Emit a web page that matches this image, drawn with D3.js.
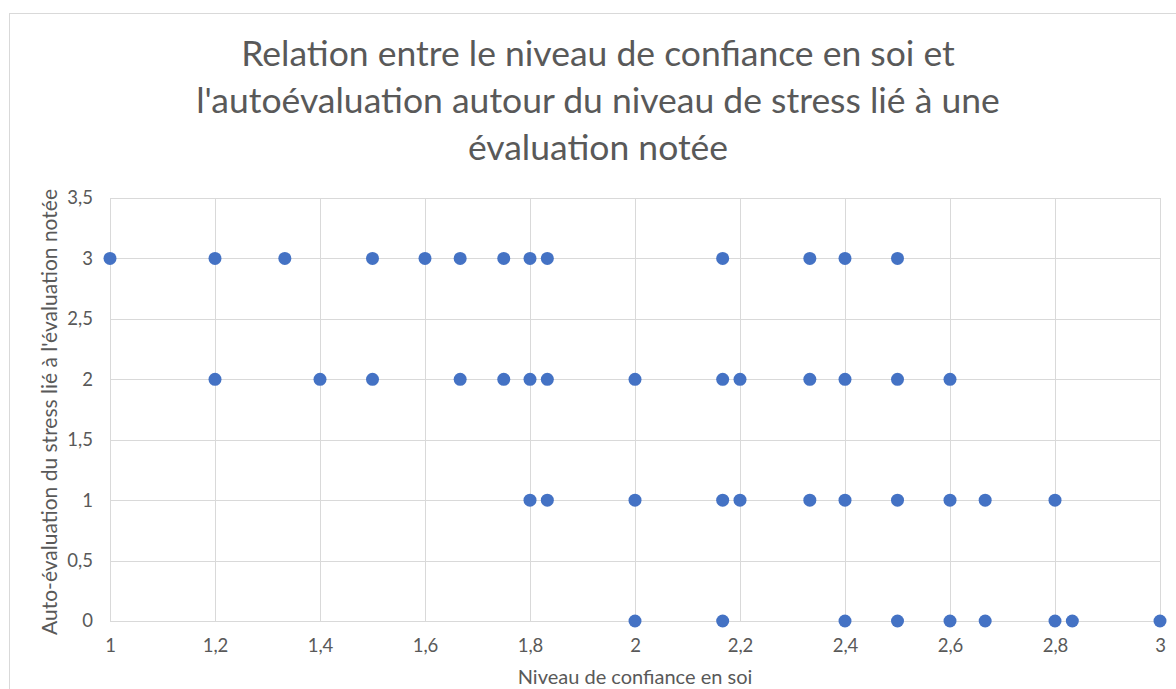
<!DOCTYPE html>
<html>
<head>
<meta charset="utf-8">
<script src="https://cdn.jsdelivr.net/npm/d3@7"></script>
<style>
  body { margin: 0; background: #fff; }
  text { font-family: Lato, "Open Sans", sans-serif; fill: #595959; }
</style>
</head>
<body>
<script>
// valeurs
var confiance = [
  1, 1.2, 1.333, 1.5, 1.6, 1.667, 1.75, 1.8, 1.833, 2.167, 2.333, 2.4, 2.5,
  1.2, 1.4, 1.5, 1.667, 1.75, 1.8, 1.833, 2, 2.167, 2.2, 2.333, 2.4, 2.5, 2.6,
  1.8, 1.833, 2, 2.167, 2.2, 2.333, 2.4, 2.5, 2.6, 2.667, 2.8,
  2, 2.167, 2.4, 2.5, 2.6, 2.667, 2.8, 2.833, 3
]
var stress = [
  3, 3, 3, 3, 3, 3, 3, 3, 3, 3, 3, 3, 3,
  2, 2, 2, 2, 2, 2, 2, 2, 2, 2, 2, 2, 2, 2,
  1, 1, 1, 1, 1, 1, 1, 1, 1, 1, 1,
  0, 0, 0, 0, 0, 0, 0, 0, 0
]
var xTicks = [1, 1.2, 1.4, 1.6, 1.8, 2, 2.2, 2.4, 2.6, 2.8, 3]
var yTicks = [0, 0.5, 1, 1.5, 2, 2.5, 3, 3.5]
var titre = [
  "Relation entre le niveau de confiance en soi et",
  "l'autoévaluation autour du niveau de stress lié à une",
  "évaluation notée"
]

var points = confiance.map((c, i) => ({x: c, y: stress[i]}))

var width = 1176, height = 689
var svg = d3.select("body").append("svg")
  .attr("width", width)
  .attr("height", height)

// cadre du graphique
svg.append("rect")
  .attr("x", 9.5).attr("y", 13.5)
  .attr("width", 1200).attr("height", 700)
  .attr("fill", "none")
  .attr("stroke", "#d9d9d9")

var Xscale = d3.scaleLinear().domain([1, 3]).range([110, 1160])
var Yscale = d3.scaleLinear().domain([0, 3.5]).range([621, 198])

var fmt = d => String(d).replace(".", ",")

// grille
svg.append("g")
  .selectAll("line")
  .data(xTicks)
  .enter()
  .append("line")
  .attr("x1", d => Math.round(Xscale(d)) + 0.5)
  .attr("x2", d => Math.round(Xscale(d)) + 0.5)
  .attr("y1", Yscale(0))
  .attr("y2", Yscale(3.5))
  .attr("stroke", "#d9d9d9")

svg.append("g")
  .selectAll("line")
  .data(yTicks)
  .enter()
  .append("line")
  .attr("x1", Xscale(1))
  .attr("x2", Xscale(3))
  .attr("y1", d => Math.round(Yscale(d)) + 0.5)
  .attr("y2", d => Math.round(Yscale(d)) + 0.5)
  .attr("stroke", "#d9d9d9")

// axes
let xAxis = d3.axisBottom(Xscale).tickValues(xTicks).tickSize(0).tickPadding(18).tickFormat(fmt)
let yAxis = d3.axisLeft(Yscale).tickValues(yTicks).tickSize(0).tickPadding(17).tickFormat(fmt)

let xg = svg.append("g")
  .attr("transform", "translate(0," + Yscale(0) + ")")
  .call(xAxis)
let yg = svg.append("g")
  .attr("transform", "translate(" + Xscale(1) + ",0)")
  .call(yAxis)

svg.selectAll(".domain").remove()
svg.selectAll(".tick text")
  .style("font-family", "Lato, 'Open Sans', sans-serif")
  .style("font-size", "18.5px")
  .attr("fill", "#595959")

// points
svg.append("g")
  .selectAll("circle")
  .data(points)
  .enter()
  .append("circle")
  .attr("cx", d => Xscale(d.x))
  .attr("cy", d => Yscale(d.y))
  .attr("r", 6.5)
  .attr("fill", "#4472c4")

// titre
svg.append("text")
  .attr("text-anchor", "middle")
  .style("font-size", "35.5px")
  .selectAll("tspan")
  .data(titre)
  .enter()
  .append("tspan")
  .attr("x", 598)
  .attr("y", (d, i) => 66 + i * 47)
  .text(d => d)

// titres des axes
svg.append("text")
  .attr("x", 635)
  .attr("y", 684)
  .attr("text-anchor", "middle")
  .style("font-size", "20px")
  .text("Niveau de confiance en soi")

svg.append("text")
  .attr("transform", "translate(57,412) rotate(-90)")
  .attr("text-anchor", "middle")
  .style("font-size", "21px")
  .text("Auto-évaluation du stress lié à l'évaluation notée")
</script>
</body>
</html>
